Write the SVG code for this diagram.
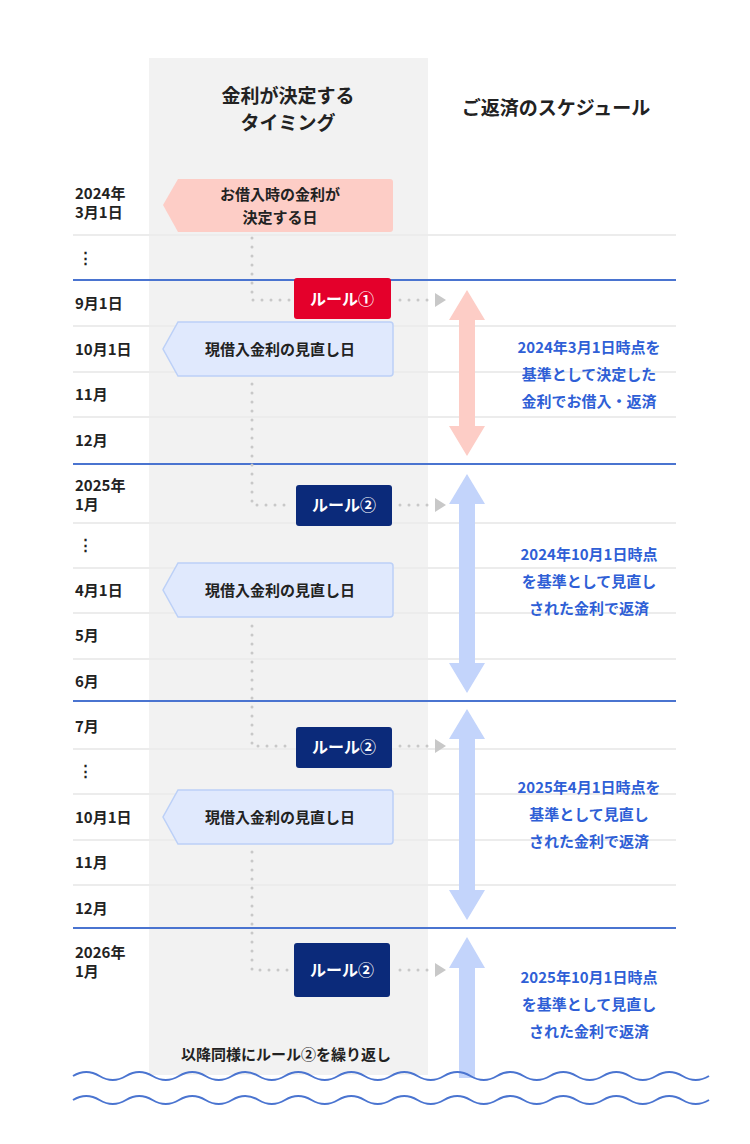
<svg xmlns="http://www.w3.org/2000/svg" width="750" height="1144" viewBox="0 0 750 1144">
<style>
text{font-family:"Noto Sans CJK JP","Noto Sans",sans-serif;font-weight:bold}
.l{font-size:15px;fill:#222}
.h{font-size:19px;fill:#222;text-anchor:middle}
.c{font-size:15px;fill:#222;text-anchor:middle}
.w{font-size:16px;fill:#fff;text-anchor:middle}
.b{font-size:15px;fill:#2f5fd6;text-anchor:middle}
.g{stroke:#ececec;stroke-width:2}
.bl{stroke:#4a74d0;stroke-width:2}
.d{stroke:#c8c8c8;stroke-width:3;stroke-dasharray:0 9;stroke-linecap:round;fill:none}
.bc{fill:#e0e9fd;stroke:#bcd0f7;stroke-width:1.5}
</style>
<rect width="750" height="1144" fill="#fff"/>
<rect x="149" y="58" width="279" height="1017" fill="#f2f2f2"/>
<g id="grid">
<path class="g" d="M73 235H676M73 326H676M73 372H676M73 417H676M73 523H676M73 568H676M73 613H676M73 659H676M73 749H676M73 794H676M73 840H676M73 885H676"/>
<path class="bl" d="M73 280H676M73 464H676M73 701H676M73 928H676"/>
</g>
<g id="headers">
<text class="h" x="288" y="103">金利が決定する</text>
<text class="h" x="288" y="130">タイミング</text>
<text class="h" x="556" y="115">ご返済のスケジュール</text>
</g>
<g id="dates">
<text class="l" x="75" y="199">2024年</text><text class="l" x="75" y="218">3月1日</text>
<text class="l" x="78" y="263">⋮</text>
<text class="l" x="75" y="309">9月1日</text>
<text class="l" x="75" y="355">10月1日</text>
<text class="l" x="75" y="400">11月</text>
<text class="l" x="75" y="446">12月</text>
<text class="l" x="75" y="491">2025年</text><text class="l" x="75" y="510">1月</text>
<text class="l" x="78" y="550">⋮</text>
<text class="l" x="75" y="596">4月1日</text>
<text class="l" x="75" y="641">5月</text>
<text class="l" x="75" y="687">6月</text>
<text class="l" x="75" y="732">7月</text>
<text class="l" x="78" y="776">⋮</text>
<text class="l" x="75" y="823">10月1日</text>
<text class="l" x="75" y="868">11月</text>
<text class="l" x="75" y="914">12月</text>
<text class="l" x="75" y="958">2026年</text><text class="l" x="75" y="977">1月</text>
</g>
<g id="connectors">
<path class="d" d="M252 238V300H290M252 384V505H292M252 626V746H292M252 852V970H290"/>
<path class="d" d="M400 300H428M400 505H428M400 746H428M400 970H428"/>
<g fill="#c8c8c8">
<path d="M435 293L446 300L435 307Z"/><path d="M435 498L446 505L435 512Z"/><path d="M435 739L446 746L435 753Z"/><path d="M435 963L446 970L435 977Z"/>
</g>
</g>
<g id="callout-start"><path d="M178 179H390a3 3 0 0 1 3 3V229a3 3 0 0 1-3 3H178L163 205Z" fill="#fdcdc6"/>
<text class="c" x="280" y="200">お借入時の金利が</text><text class="c" x="280" y="223">決定する日</text></g>
<g id="callout-1"><path class="bc" d="M178 322H390a3 3 0 0 1 3 3V373a3 3 0 0 1-3 3H178L163 349Z"/><text class="c" x="280" y="355">現借入金利の見直し日</text></g>
<g id="callout-2"><path class="bc" d="M178 563H390a3 3 0 0 1 3 3V614a3 3 0 0 1-3 3H178L163 590Z"/><text class="c" x="280" y="596">現借入金利の見直し日</text></g>
<g id="callout-3"><path class="bc" d="M178 790H390a3 3 0 0 1 3 3V841a3 3 0 0 1-3 3H178L163 817Z"/><text class="c" x="280" y="823">現借入金利の見直し日</text></g>
<g id="rule1"><rect x="294" y="278" width="97" height="41" rx="3" fill="#e4002b"/><text class="w" x="342" y="305">ルール①</text></g>
<g id="rule2a"><rect x="296" y="485" width="96" height="41" rx="3" fill="#0b2a7a"/><text class="w" x="344" y="511">ルール②</text></g>
<g id="rule2b"><rect x="296" y="727" width="96" height="41" rx="3" fill="#0b2a7a"/><text class="w" x="344" y="753">ルール②</text></g>
<g id="rule2c"><rect x="294" y="943" width="96" height="54" rx="3" fill="#0b2a7a"/><text class="w" x="342" y="976">ルール②</text></g>
<g id="arrows">
<path d="M467 290L485 320H475V426H485L467 456L449 426H459V320H449Z" fill="#fdcdc6"/>
<path d="M467 474L485 504H475V663H485L467 693L449 663H459V504H449Z" fill="#c3d4fb"/>
<path d="M467 709L485 739H475V890H485L467 920L449 890H459V739H449Z" fill="#c3d4fb"/>
<path d="M467 937L485 968H475V1078H459V968H449Z" fill="#c3d4fb"/>
</g>
<g id="notes">
<text class="b" x="589" y="353">2024年3月1日時点を</text><text class="b" x="589" y="380">基準として決定した</text><text class="b" x="589" y="407">金利でお借入・返済</text>
<text class="b" x="589" y="560">2024年10月1日時点</text><text class="b" x="589" y="587">を基準として見直し</text><text class="b" x="589" y="614">された金利で返済</text>
<text class="b" x="589" y="793">2025年4月1日時点を</text><text class="b" x="589" y="820">基準として見直し</text><text class="b" x="589" y="847">された金利で返済</text>
<text class="b" x="589" y="983">2025年10月1日時点</text><text class="b" x="589" y="1010">を基準として見直し</text><text class="b" x="589" y="1037">された金利で返済</text>
</g>
<text class="c" x="286" y="1060">以降同様にルール②を繰り返し</text>
<g id="waves" fill="none" stroke="#4a74d0" stroke-width="2">
<path d="M73 1076q13.25 -8 26.5 0t26.5 0q13.25 -8 26.5 0t26.5 0q13.25 -8 26.5 0t26.5 0q13.25 -8 26.5 0t26.5 0q13.25 -8 26.5 0t26.5 0q13.25 -8 26.5 0t26.5 0q13.25 -8 26.5 0t26.5 0q13.25 -8 26.5 0t26.5 0q13.25 -8 26.5 0t26.5 0q13.25 -8 26.5 0t26.5 0q13.25 -8 26.5 0t26.5 0q13.25 -8 26.5 0t26.5 0"/>
<path d="M73 1100q13.25 -8 26.5 0t26.5 0q13.25 -8 26.5 0t26.5 0q13.25 -8 26.5 0t26.5 0q13.25 -8 26.5 0t26.5 0q13.25 -8 26.5 0t26.5 0q13.25 -8 26.5 0t26.5 0q13.25 -8 26.5 0t26.5 0q13.25 -8 26.5 0t26.5 0q13.25 -8 26.5 0t26.5 0q13.25 -8 26.5 0t26.5 0q13.25 -8 26.5 0t26.5 0q13.25 -8 26.5 0t26.5 0"/>
</g>
</svg>
